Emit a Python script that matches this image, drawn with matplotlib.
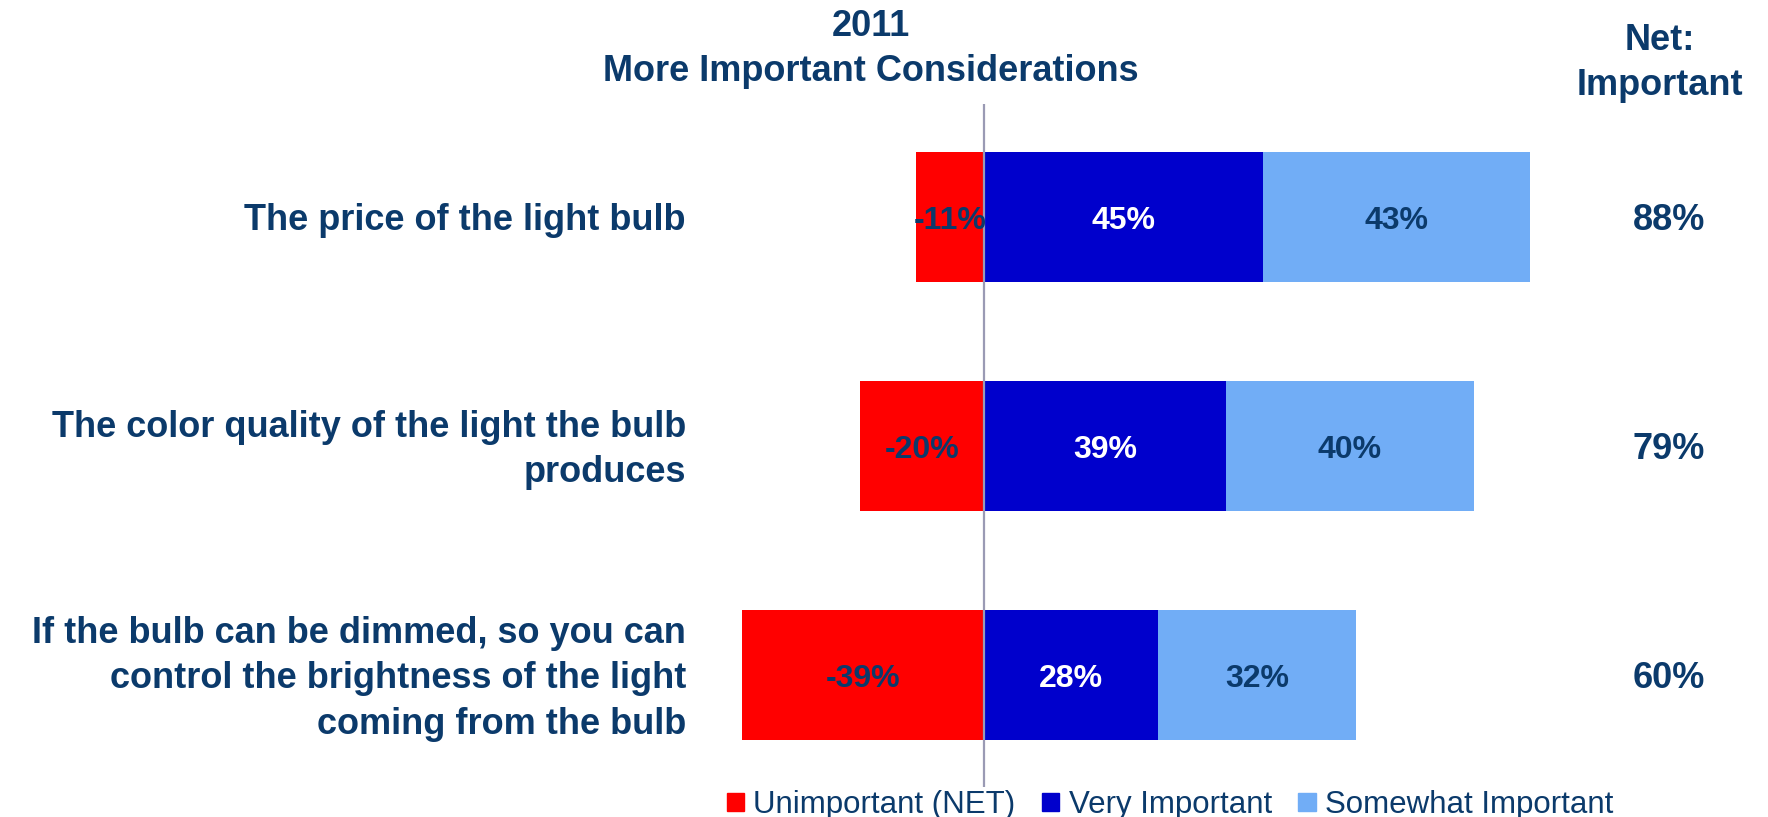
import matplotlib
matplotlib.use("Agg")
import matplotlib.pyplot as plt
import matplotlib.transforms as mtransforms
from matplotlib.patches import Patch

# survey results, one entry per consideration
items = [
    "The price of the light bulb",
    "The color quality of the light the bulb\nproduces",
    "If the bulb can be dimmed, so you can\ncontrol the brightness of the light\ncoming from the bulb",
]
unimportant = [-11, -20, -39]
very_important = [45, 39, 28]
somewhat_important = [43, 40, 32]
net_important = [88, 79, 60]

series_names = ["Unimportant (NET)", "Very Important", "Somewhat Important"]

NAVY = "#0b3a6b"
RED = "#ff0000"
BLUE = "#0000cc"
LIGHT = "#71adf6"

plt.rcParams["font.family"] = ["Liberation Sans", "DejaVu Sans"]

W, H = 1768, 817
fig = plt.figure(figsize=(W / 100, H / 100), dpi=100)
ax = fig.add_axes([700 / W, 1 - 787 / H, 1000 / W, 683 / H])

y = list(range(len(items)))
bh = 0.57
ax.barh(y, unimportant, height=bh, color=RED)
ax.barh(y, very_important, height=bh, color=BLUE)
ax.barh(y, somewhat_important, left=very_important, height=bh, color=LIGHT)

ax.axvline(0, color="#9a9ab4", lw=1.6, zorder=5)

ax.set_xlim(-45.81, 115.48)
ax.set_ylim(2.489, -0.493)
ax.axis("off")

# nudge text down a few pixels so the glyphs sit centred on the bars
down = mtransforms.ScaledTranslation(0, -4 / 100, fig.dpi_scale_trans)
data_tr = ax.transData + down

# labels inside the bars
for i in y:
    u, v, s = unimportant[i], very_important[i], somewhat_important[i]
    ax.text(u / 2, i, f"{u}%", transform=data_tr, ha="center", va="center",
            color=NAVY, fontsize=23, fontweight="bold", zorder=6)
    ax.text(v / 2, i, f"{v}%", transform=data_tr, ha="center", va="center",
            color="white", fontsize=23, fontweight="bold")
    ax.text(v + s / 2, i, f"{s}%", transform=data_tr, ha="center",
            va="center", color=NAVY, fontsize=23, fontweight="bold")

# category labels on the left, net totals on the right
trans = mtransforms.blended_transform_factory(fig.transFigure, ax.transData) + down
for i in y:
    ax.text(686 / W, i, items[i], transform=trans, ha="right", va="center",
            color=NAVY, fontsize=26, fontweight="bold", linespacing=1.38)
    ax.text(1669 / W, i, f"{net_important[i]}%", transform=trans,
            ha="center", va="center", color=NAVY, fontsize=26,
            fontweight="bold")

fig.text(871 / W, 1 - 49 / H, "2011\nMore Important Considerations",
         ha="center", va="center", color=NAVY, fontsize=26,
         fontweight="bold", linespacing=1.38)
fig.text(1660 / W, 1 - 63 / H, "Net:\nImportant", ha="center", va="center",
         color=NAVY, fontsize=26, fontweight="bold", linespacing=1.38)

handles = [Patch(color=c) for c in (RED, BLUE, LIGHT)]
leg = fig.legend(handles, series_names, loc="center",
                 bbox_to_anchor=(1170 / W, 1 - 805 / H), ncol=3,
                 frameon=False, fontsize=22.5, handlelength=0.55,
                 handleheight=0.55, handletextpad=0.3, columnspacing=0.85,
                 borderpad=0, borderaxespad=0)
for t in leg.get_texts():
    t.set_color(NAVY)

fig.savefig("out.png", dpi=100)
